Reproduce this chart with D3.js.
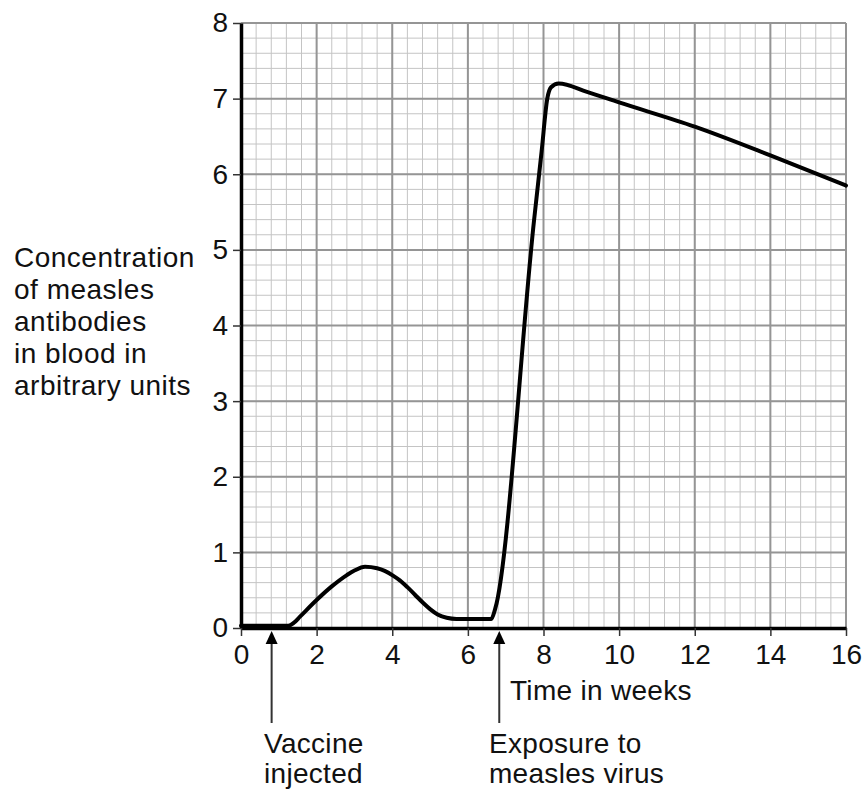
<!DOCTYPE html>
<html><head><meta charset="utf-8">
<script src="https://cdn.jsdelivr.net/npm/d3@7"></script>
<style>
html,body{margin:0;padding:0;background:#fff;}
svg text{font-family:"Liberation Sans",Arial,sans-serif;fill:#111;}
</style></head>
<body>
<svg id="chart" width="866" height="789"></svg>
<script>
const weeks = [0, 1.25, 1.4, 1.56, 2, 2.4, 2.8, 3.0, 3.28, 3.6, 3.8, 4.03, 4.2, 4.4, 4.6, 4.82, 5.0, 5.2, 5.44, 5.7, 6.62, 6.72, 7.75, 7.95, 8.1, 8.2, 8.4, 9.15, 10, 12, 14, 16];
const concentration = [0.03, 0.03, 0.07, 0.15, 0.37, 0.55, 0.70, 0.76, 0.81, 0.79, 0.755, 0.69, 0.63, 0.54, 0.44, 0.33, 0.25, 0.18, 0.135, 0.12, 0.12, 0.25, 5.39, 6.3, 7.0, 7.15, 7.2, 7.09, 6.95, 6.63, 6.25, 5.85];
const xTicks = [0, 2, 4, 6, 8, 10, 12, 14, 16];
const yTicks = [0, 1, 2, 3, 4, 5, 6, 7, 8];
const yLabelLines = ["Concentration", "of measles", "antibodies", "in blood in", "arbitrary units"];
const xLabel = "Time in weeks";
const arrowWeeks = [0.81, 6.83];
const arrowLabels = [["Vaccine", "injected"], ["Exposure to", "measles virus"]];

const svg = d3.select("#chart");
const x = d3.scaleLinear().domain([0, 16]).range([241, 846]);
const y = d3.scaleLinear().domain([0, 8]).range([628, 23]);

// grid
const g = svg.append("g");
const minorX = d3.range(0, 16.001, 0.4);
const minorY = d3.range(0, 8.001, 0.2);
g.selectAll(".mx").data(minorX).join("line")
  .attr("x1", d => x(d)).attr("x2", d => x(d)).attr("y1", y(0)).attr("y2", y(8))
  .attr("stroke", "#c4c4c4").attr("stroke-width", 1);
g.selectAll(".my").data(minorY).join("line")
  .attr("y1", d => y(d)).attr("y2", d => y(d)).attr("x1", x(0)).attr("x2", x(16))
  .attr("stroke", "#c4c4c4").attr("stroke-width", 1);
g.selectAll(".Mx").data(xTicks).join("line")
  .attr("x1", d => x(d)).attr("x2", d => x(d)).attr("y1", y(0)).attr("y2", y(8))
  .attr("stroke", "#959595").attr("stroke-width", 2);
g.selectAll(".My").data(yTicks).join("line")
  .attr("y1", d => y(d)).attr("y2", d => y(d)).attr("x1", x(0)).attr("x2", x(16))
  .attr("stroke", "#959595").attr("stroke-width", 2);

// axes
const yAxis = svg.append("g").attr("transform", `translate(${x(0)},0)`)
  .call(d3.axisLeft(y).tickValues(yTicks).tickSize(8).tickSizeOuter(0).tickPadding(5));
const xAxis = svg.append("g").attr("transform", `translate(0,${y(0)})`)
  .call(d3.axisBottom(x).tickValues(xTicks).tickSize(8).tickSizeOuter(0).tickPadding(8));
[yAxis, xAxis].forEach(a => {
  a.attr("font-size", 28);
  a.select(".domain").attr("stroke", "#000").attr("stroke-width", 3.5);
  a.selectAll(".tick line").attr("stroke", "#333").attr("stroke-width", 1.5);
  a.selectAll(".tick text").attr("font-size", 28).attr("fill", "#111")
    .style("font-family", '"Liberation Sans", Arial, sans-serif');
});

// curve
const pts = weeks.map((w, i) => [w, concentration[i]]);
svg.append("path").datum(pts)
  .attr("d", d3.line().x(d => x(d[0])).y(d => y(d[1])).curve(d3.curveMonotoneX))
  .attr("fill", "none").attr("stroke", "#000").attr("stroke-width", 4)
  .attr("stroke-linejoin", "round").attr("stroke-linecap", "round");

// y label
svg.append("text").attr("font-size", 28).style("letter-spacing", "0.5px")
  .selectAll("tspan").data(yLabelLines).join("tspan")
  .attr("x", 14).attr("y", (d, i) => 267 + i * 32)
  .text(d => d);

// x label
svg.append("text").attr("x", 510).attr("y", 700).attr("font-size", 28)
  .style("letter-spacing", "0.3px").text(xLabel);

// arrows
arrowWeeks.forEach((w, i) => {
  const ax = x(w);
  svg.append("line").attr("x1", ax).attr("x2", ax).attr("y1", 723).attr("y2", 640)
    .attr("stroke", "#333").attr("stroke-width", 2);
  svg.append("path").attr("d", `M${ax},631 L${ax - 6},644 L${ax + 6},644 Z`).attr("fill", "#000");
  const lx = i === 0 ? 264 : 489;
  svg.append("text").attr("font-size", 28).style("letter-spacing", "0.3px")
    .selectAll("tspan").data(arrowLabels[i]).join("tspan")
    .attr("x", lx).attr("y", (d, j) => 753 + j * 30).text(d => d);
});
</script>
</body></html>
